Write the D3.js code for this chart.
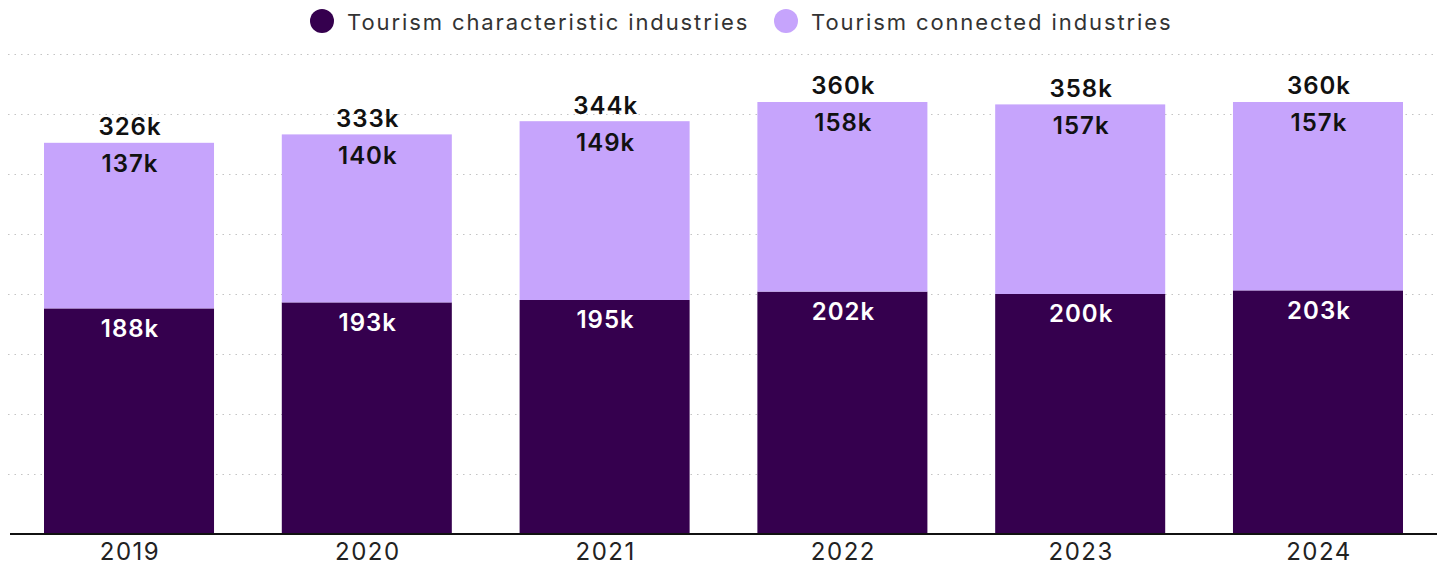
<!DOCTYPE html>
<html>
<head>
<meta charset="utf-8">
<script src="https://cdn.jsdelivr.net/npm/d3@7"></script>
<style>
  body { margin: 0; background: #fff; }
  text { font-family: Inter, "Noto Sans", sans-serif; }
</style>
</head>
<body>
<div id="chart-area"></div>
<script>
var years = ["2019", "2020", "2021", "2022", "2023", "2024"];
var characteristic = [188, 193, 195, 202, 200, 203];
var connected = [137, 140, 149, 158, 157, 157];
var totals = [326, 333, 344, 360, 358, 360];
var yTicks = [0, 50, 100, 150, 200, 250, 300, 350, 400];
var seriesNames = ["Tourism characteristic industries", "Tourism connected industries"];

var darkColor = "#35004e";
var lightColor = "#c6a4fc";

var width = 1445;
var height = 566;

var xScale = d3.scaleBand().domain(years).range([10, 1437]).paddingInner(0.285).paddingOuter(0.143);
var yScale = d3.scaleLinear().domain([0, 400]).range([534, 54]);

var svg = d3.select("#chart-area")
  .append("svg")
  .attr("width", width)
  .attr("height", height);

// dotted gridlines
svg.append("g")
  .selectAll("line")
  .data(yTicks.slice(1))
  .enter()
  .append("line")
  .attr("x1", 8)
  .attr("x2", 1437)
  .attr("y1", (d) => yScale(d) + 0.5)
  .attr("y2", (d) => yScale(d) + 0.5)
  .attr("stroke", "#c4c4c4")
  .attr("stroke-width", 1.2)
  .attr("stroke-dasharray", "1.5,5");

var data = years.map((y, i) => ({
  year: y,
  a: characteristic[i],
  b: connected[i],
  total: totals[i]
}));

var bars = svg.append("g");

bars.selectAll(".bar-a")
  .data(data)
  .enter()
  .append("rect")
  .attr("class", "bar-a")
  .attr("x", (d) => xScale(d.year))
  .attr("y", (d) => yScale(d.a))
  .attr("width", xScale.bandwidth())
  .attr("height", (d) => yScale(0) - yScale(d.a))
  .attr("fill", darkColor);

bars.selectAll(".bar-b")
  .data(data)
  .enter()
  .append("rect")
  .attr("class", "bar-b")
  .attr("x", (d) => xScale(d.year))
  .attr("y", (d) => yScale(d.total))
  .attr("width", xScale.bandwidth())
  .attr("height", (d) => yScale(d.a) - yScale(d.total))
  .attr("fill", lightColor);

// letter-spacing adds a trailing gap, nudge back by half of it
var cx = (d) => xScale(d.year) + xScale.bandwidth() / 2 + 1;

// labels
var labels = svg.append("g")
  .attr("text-anchor", "middle")
  .attr("font-size", "24px")
  .attr("font-weight", 600)
  .attr("letter-spacing", "1px");

labels.selectAll(".lab-a")
  .data(data)
  .enter()
  .append("text")
  .attr("x", cx)
  .attr("y", (d) => yScale(d.a) + 20)
  .attr("dy", "0.35em")
  .attr("fill", "#ffffff")
  .text((d) => d.a + "k");

labels.selectAll(".lab-b")
  .data(data)
  .enter()
  .append("text")
  .attr("x", cx)
  .attr("y", (d) => yScale(d.total) + 21)
  .attr("dy", "0.35em")
  .attr("fill", "#111111")
  .text((d) => d.b + "k");

labels.selectAll(".lab-t")
  .data(data)
  .enter()
  .append("text")
  .attr("x", cx)
  .attr("y", (d) => yScale(d.total) - 16)
  .attr("dy", "0.35em")
  .attr("fill", "#111111")
  .text((d) => d.total + "k");

// x axis
var xAxisGroup = svg.append("g")
  .attr("transform", "translate(0," + 534 + ")");

xAxisGroup.call(d3.axisBottom(xScale).tickSize(0).tickPadding(9))
  .call((g) => g.select(".domain").attr("stroke", "#111").attr("stroke-width", 2).attr("d", "M10,0H1437"))
  .selectAll("text")
  .attr("font-family", "Inter, 'Noto Sans', sans-serif")
  .attr("font-size", "24px")
  .attr("letter-spacing", "1.5px")
  .attr("dx", "1px")
  .attr("fill", "#222");

// legend
var legendX = [322, 786];
var legendColors = [darkColor, lightColor];
var legend = svg.append("g");

legend.selectAll("circle")
  .data(seriesNames)
  .enter()
  .append("circle")
  .attr("cx", (d, i) => legendX[i])
  .attr("cy", 21)
  .attr("r", 12)
  .attr("fill", (d, i) => legendColors[i]);

legend.selectAll("text")
  .data(seriesNames)
  .enter()
  .append("text")
  .attr("x", (d, i) => legendX[i] + 25)
  .attr("y", 22)
  .attr("dy", "0.35em")
  .attr("font-size", "22px")
  .attr("letter-spacing", "1.9px")
  .attr("fill", "#333")
  .text((d) => d);
</script>
</body>
</html>
